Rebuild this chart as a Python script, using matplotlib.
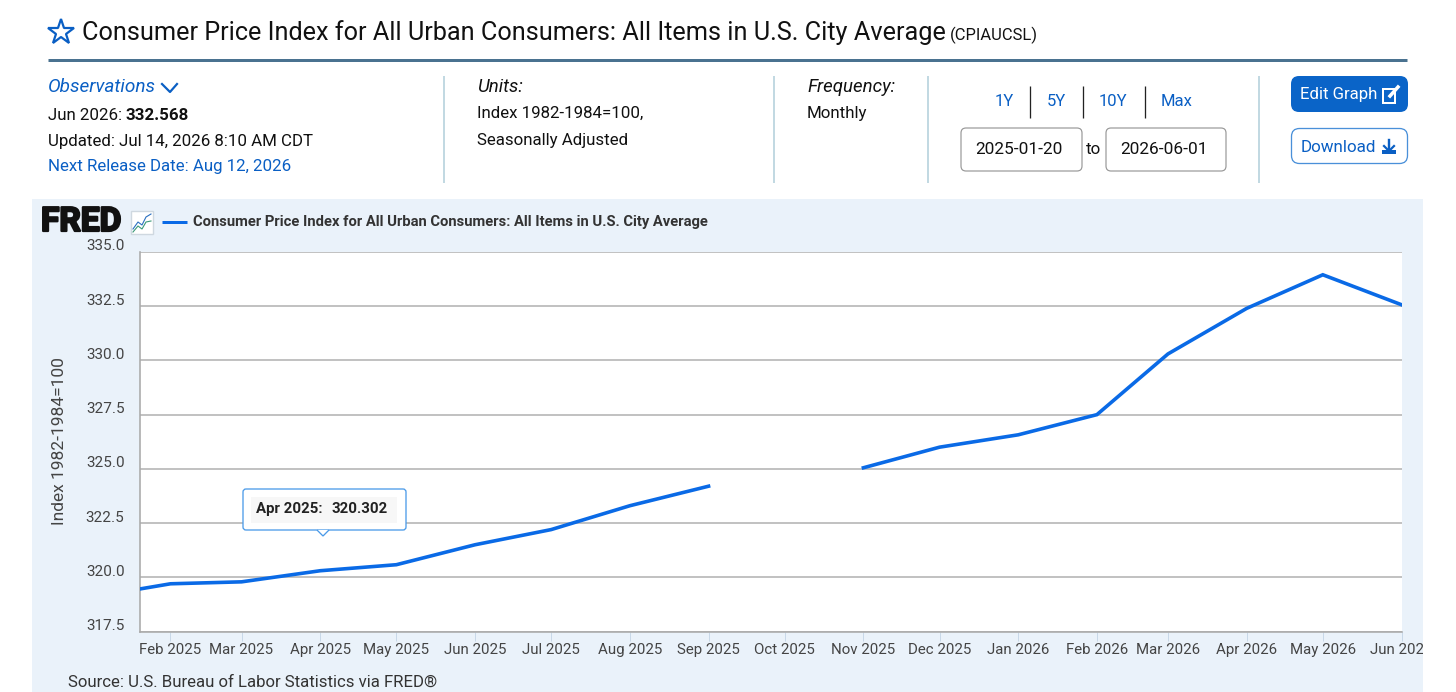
import numpy as np
import pandas as pd
import matplotlib
matplotlib.use("Agg")
import matplotlib.pyplot as plt
import matplotlib.dates as mdates
import matplotlib.patheffects as pe
from matplotlib.patches import Rectangle, FancyBboxPatch, Polygon
from matplotlib.transforms import ScaledTranslation

W, H = 1456, 692
plt.rcParams['font.family'] = ['Roboto', 'DejaVu Sans']

months = ["2025-01-01", "2025-02-01", "2025-03-01", "2025-04-01", "2025-05-01", "2025-06-01",
          "2025-07-01", "2025-08-01", "2025-09-01", "2025-10-01", "2025-11-01", "2025-12-01",
          "2026-01-01", "2026-02-01", "2026-03-01", "2026-04-01", "2026-05-01", "2026-06-01"]
cpi = [319.086, 319.70, 319.79, 320.302, 320.58, 321.50,
       322.20, 323.30, 324.20, np.nan, 325.05, 326.00,
       326.57, 327.50, 330.30, 332.40, 333.95, 332.568]
y_ticks = [317.5, 320.0, 322.5, 325.0, 327.5, 330.0, 332.5, 335.0]
x_start, x_end = "2025-01-20", "2026-06-01"
series_name = "Consumer Price Index for All Urban Consumers: All Items in U.S. City Average"

BLUE = "#0a5fc4"
LINE = "#0a6ae6"


def pt(px):
    return px * 72 / 100


def text(a, x, y, s, size, color="#111111", **kw):
    kw.setdefault("va", "center")
    return a.text(x, y, s, fontsize=pt(size), color=color, **kw)


fig = plt.figure(figsize=(W / 100, H / 100), dpi=100, facecolor="white")

# page furniture, in pixels
bg = fig.add_axes([0, 0, 1, 1], zorder=0)
bg.set_xlim(0, W)
bg.set_ylim(H, 0)
bg.axis("off")

top = fig.add_axes([0, 0, 1, 1], zorder=2)
top.set_xlim(0, W)
top.set_ylim(H, 0)
top.axis("off")
top.patch.set_alpha(0)

panel = Rectangle((32, 199), 1391, 493, fc="#eaf2fa", ec="none")
bg.add_patch(panel)

# header
bg.plot([61], [32], marker="*", ms=19, mfc="white", mec="#0a5fc4", mew=1.6)
text(bg, 82, 32.5, series_name, 25.3, "#111111")
text(bg, 950, 35, "(CPIAUCSL)", 16.5, "#111111")
bg.plot([48, 1407], [60, 60], color="#4a7290", lw=pt(3), solid_capstyle="butt")

for x in [444, 774, 928, 1259]:
    bg.plot([x, x], [76, 183], color="#c2d9e2", lw=pt(2), solid_capstyle="butt")

text(bg, 48, 87.5, "Observations", 19, BLUE, style="italic", family=["Roboto"])
bg.plot([162, 170, 177], [84, 92, 84], color=BLUE, lw=pt(2.2))
text(bg, 48, 115, "Jun 2026: ", 16.9)
text(bg, 126, 115, "332.568", 16.9, weight="bold")
text(bg, 48, 141.5, "Updated: Jul 14, 2026 8:10 AM CDT", 16.9)
text(bg, 48, 167, "Next Release Date: Aug 12, 2026", 16.9, BLUE)

text(bg, 477, 86.5, "Units:", 18.6, style="italic")
text(bg, 477, 113.5, "Index 1982-1984=100,", 16.9)
text(bg, 477, 140.5, "Seasonally Adjusted", 16.9)

text(bg, 807, 86.5, "Frequency:", 18.6, style="italic")
text(bg, 807, 113.5, "Monthly", 16.9)

for x, s in zip([1004, 1056, 1113, 1177], ["1Y", "5Y", "10Y", "Max"]):
    text(bg, x, 102, s, 16.6, BLUE, ha="center")
for x in [1030, 1083, 1145]:
    bg.plot([x, x], [86, 118], color="#222222", lw=pt(1.3), solid_capstyle="butt")

for x0, x1, s in [(961, 1082, "2025-01-20"), (1106, 1226, "2026-06-01")]:
    bg.add_patch(FancyBboxPatch((x0 + 4, 132), x1 - x0 - 8, 35, boxstyle="round,pad=4,rounding_size=5",
                                fc="white", ec="#999999", lw=pt(1.2)))
    text(bg, x0 + 14, 150, s, 17.2)
text(bg, 1094, 149, "to", 16.9, ha="center")

bg.add_patch(FancyBboxPatch((1296, 81), 107, 26, boxstyle="round,pad=5,rounding_size=8",
                            fc="#0a64c8", ec="none"))
text(bg, 1300, 95, "Edit Graph", 16.8, "white")
bg.add_patch(Rectangle((1383, 89), 12, 14, fc="none", ec="white", lw=pt(2)))
bg.plot([1390, 1398], [96, 87], color="white", lw=pt(3.5))

bg.add_patch(FancyBboxPatch((1296.5, 133.5), 106, 25, boxstyle="round,pad=5,rounding_size=8",
                            fc="white", ec="#4a90d9", lw=pt(1.3)))
text(bg, 1301, 147, "Download", 17, BLUE)
bg.plot([1389, 1389], [140, 150], color=BLUE, lw=pt(2.4))
bg.plot([1384, 1389, 1394], [146, 151, 146], color=BLUE, lw=pt(2.2))
bg.add_patch(Rectangle((1382, 150), 14, 4, fc=BLUE, ec="none"))

# FRED logo and legend
logo = text(bg, 41, 222, "FRED", 33.5, "#111111", weight="bold")
logo.set_path_effects([pe.withStroke(linewidth=1.6, foreground="#111111")])
bg.add_patch(Rectangle((131, 211), 22, 23, fc="white", ec="#cfd8e0", lw=1))
bg.plot([133, 138, 142, 146, 151], [229, 222, 225, 217, 214], color="#2a6fc0", lw=0.8)
bg.plot([133, 138, 142, 146, 151], [232, 226, 229, 222, 221], color="#3a9a78", lw=0.8)
bg.plot([162, 187], [222, 222], color=LINE, lw=pt(3), solid_capstyle="butt")
text(bg, 193, 222, series_name, 14.8, "#333333", weight="bold")

# the chart itself
left, right, y_top, y_bot = 140, 1401.5, 252, 631.5
ax = fig.add_axes([left / W, 1 - y_bot / H, (right - left) / W, (y_bot - y_top) / H], zorder=1)
dates = pd.to_datetime(months)
ax.plot(dates, cpi, color=LINE, lw=pt(3.6), solid_joinstyle="miter", zorder=3)
ax.set_xlim(pd.Timestamp(x_start), pd.Timestamp(x_end))
ax.set_ylim(y_ticks[0], y_ticks[-1])

ax.xaxis.set_major_locator(mdates.MonthLocator())
ax.xaxis.set_major_formatter(mdates.DateFormatter("%b %Y"))
ax.set_yticks(y_ticks)
ax.set_yticklabels([f"{v:.1f}" for v in y_ticks])
ax.grid(axis="y", color="#bcbcbc", lw=pt(1.8))
ax.set_axisbelow(True)
for s in ["top", "right"]:
    ax.spines[s].set_visible(False)
for s in ["left", "bottom"]:
    ax.spines[s].set_color("#aaaaaa")
    ax.spines[s].set_linewidth(pt(1.6))
ax.tick_params(axis="y", length=0, pad=pt(15.5), labelsize=pt(15.3), labelcolor="#444444")
ax.tick_params(axis="x", length=pt(9), width=pt(1), color="#c8d8e8", pad=pt(2.5),
               labelsize=pt(15), labelcolor="#444444")
fig.canvas.draw()
# FRED puts the y labels just above their gridlines
up = ScaledTranslation(0, 7 / 100, fig.dpi_scale_trans)
for lab in ax.get_yticklabels():
    lab.set_transform(lab.get_transform() + up)
for lab in ax.get_xticklabels():
    lab.set_clip_box(panel.get_window_extent())
    lab.set_clip_on(True)

text(bg, 60, 441, "Index 1982-1984=100", 17.4, "#444444", rotation=90, ha="center")
text(bg, 68, 682.5, "Source: U.S. Bureau of Labor Statistics via FRED®", 16.8, "#333333")

# tooltip
top.add_patch(FancyBboxPatch((245, 491), 159, 37, boxstyle="round,pad=2,rounding_size=3",
                             fc="white", ec="#4a9ae8", lw=pt(1.3), zorder=5))
top.add_patch(Rectangle((251, 497), 146, 26, fc="#f7f7f7", ec="none", zorder=6))
top.add_patch(Polygon([[317, 530], [323, 536], [329, 530]], closed=False, fc="white",
                      ec="#4a9ae8", lw=pt(1.3), zorder=6))
text(top, 256, 509, "Apr 2025:", 15, "#222222", weight="bold", zorder=7)
text(top, 331, 509, f"{cpi[3]:.3f}", 15, "#222222", weight="bold", zorder=7)

fig.savefig("out.png", dpi=100, facecolor="white")
